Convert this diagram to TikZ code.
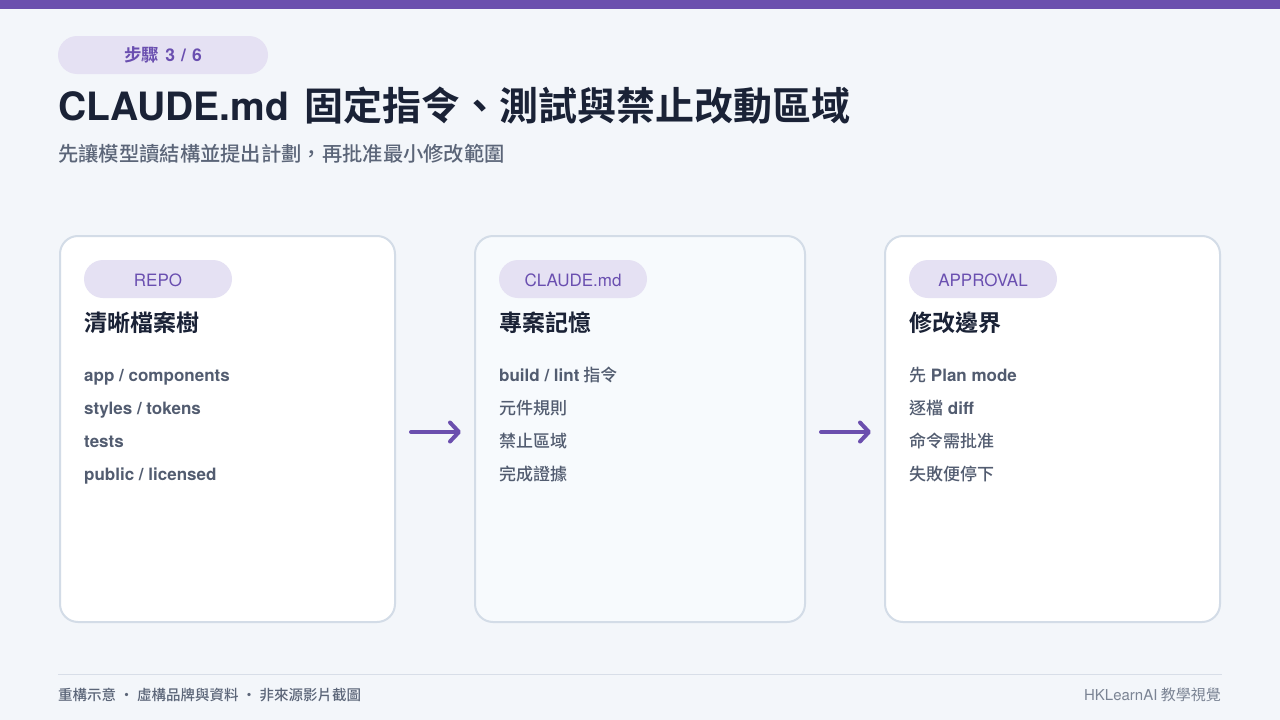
\documentclass[tikz,border=0pt]{standalone}
\usepackage{fontspec}
\setmainfont{Noto Sans CJK TC}[BoldFont={Noto Sans CJK TC Bold}]
\newfontfamily\medfont{Noto Sans CJK TC Medium}
\newfontfamily\heros{TeX Gyre Heros}
\newcommand{\lt}[1]{{\heros #1}}
\newcommand{\ltb}[1]{{\heros\bfseries #1}}
\usetikzlibrary{arrows.meta}

\definecolor{bgpage}{HTML}{F3F6FA}
\definecolor{topbar}{HTML}{6B4FAE}
\definecolor{pillfill}{HTML}{E5E1F3}
\definecolor{pilltext}{HTML}{6A4FB0}
\definecolor{titlecol}{HTML}{1A2236}
\definecolor{subcol}{HTML}{5B6578}
\definecolor{itemcol}{HTML}{525C70}
\definecolor{cardline}{HTML}{D3DCE7}
\definecolor{midfill}{HTML}{F7FAFD}
\definecolor{rulecol}{HTML}{D8DEE8}
\definecolor{creditcol}{HTML}{7B8494}

\tikzset{
  card/.style={draw=cardline, line width=2pt, rounded corners=18pt, fill=white,
    minimum width=335pt, minimum height=386pt, inner sep=0pt},
  tag/.style={fill=pillfill, rounded corners=19pt, minimum width=148pt,
    minimum height=38pt, inner sep=0pt},
  tagtext/.style={anchor=base, inner sep=0pt, text=pilltext, font=\medfont\fontsize{17}{19}\selectfont},
  heading/.style={anchor=base west, inner sep=0pt, text=titlecol, font=\bfseries\fontsize{23}{27}\selectfont},
  item/.style={anchor=base west, inner sep=0pt, text=itemcol, font=\medfont\fontsize{17}{20}\selectfont},
  flow/.style={draw=topbar, line width=4pt, line cap=round,
    -{Straight Barb[length=9pt, width=19pt, round]}}
}

\begin{document}
\begin{tikzpicture}[x=1pt, y=-1pt]
		%%%%% START %%%%%
		\useasboundingbox (0,0) rectangle (1280,720);
		\fill[bgpage] (0,0) rectangle (1280,720);
		\fill[topbar] (0,0) rectangle (1280,9);
		
		% header
		\node[fill=pillfill, rounded corners=19pt, minimum width=210pt, minimum height=38pt, inner sep=0pt] (steppill) at (163,55) {};
		\node[tagtext, font=\bfseries\fontsize{17.5}{19}\selectfont] (steptext) at (163,61) {步驟\ltb{\hspace{0.35em}3\hspace{0.35em}/\hspace{0.35em}6}};
		\node[anchor=base west, inner sep=0pt, text=titlecol, font=\bfseries\fontsize{39}{45}\selectfont] (title) at (58,120) {\ltb{CLAUDE.md}\hspace{0.4em}固定指令、測試與禁止改動區域};
		\node[anchor=base west, inner sep=0pt, text=subcol, font=\medfont\fontsize{20.3}{24}\selectfont] (subtitle) at (58,161) {先讓模型讀結構並提出計劃，再批准最小修改範圍};
		
		% cards
		\node[card] (repo) at (227.5,429) {};
		\node[card, fill=midfill, minimum width=330pt] (memory) at (640,429) {};
		\node[card] (approval) at (1052.5,429) {};
		
		\node[tag] (repotag) at (158,279) {};
		\node[tagtext] at (158,286) {\lt{REPO}};
		\node[heading] (repohead) at (84,331) {清晰檔案樹};
		\node[item] (repo1) at (84,381) {\ltb{app / components}};
		\node[item] (repo2) at (84,414) {\ltb{styles / tokens}};
		\node[item] (repo3) at (84,447) {\ltb{tests}};
		\node[item] (repo4) at (84,480) {\ltb{public / licensed}};
		
		\node[tag] (memtag) at (573,279) {};
		\node[tagtext] at (573,286) {\lt{CLAUDE.md}};
		\node[heading] (memhead) at (499,331) {專案記憶};
		\node[item] (mem1) at (499,381) {\ltb{build / lint} 指令};
		\node[item] (mem2) at (499,414) {元件規則};
		\node[item] (mem3) at (499,447) {禁止區域};
		\node[item] (mem4) at (499,480) {完成證據};
		
		\node[tag] (apptag) at (983,279) {};
		\node[tagtext] at (983,286) {\lt{APPROVAL}};
		\node[heading] (apphead) at (909,331) {修改邊界};
		\node[item] (app1) at (909,381) {先\ltb{ Plan mode}};
		\node[item] (app2) at (909,414) {逐檔\ltb{ diff}};
		\node[item] (app3) at (909,447) {命令需批准};
		\node[item] (app4) at (909,480) {失敗便停下};
		
		% arrows
		\draw[flow, shorten <=15pt, shorten >=13pt] ([yshift=-3pt]repo.east) -- ([yshift=-3pt]memory.west);
		\draw[flow, shorten <=15pt, shorten >=13pt] ([yshift=-3pt]memory.east) -- ([yshift=-3pt]approval.west);
		
		% footer
		\draw[rulecol, line width=1pt] (58,674) -- (1222,674);
		\node[anchor=base west, inner sep=0pt, text=subcol, font=\medfont\fontsize{14.5}{17}\selectfont] (footleft) at (58,700) {重構示意 · 虛構品牌與資料 · 非來源影片截圖};
		\node[anchor=base east, inner sep=0pt, text=creditcol, font=\fontsize{15}{17}\selectfont] (footright) at (1221,700) {{\heros HKLearnAI} 教學視覺};
		%%%%% END %%%%%
\end{tikzpicture}
\end{document}
